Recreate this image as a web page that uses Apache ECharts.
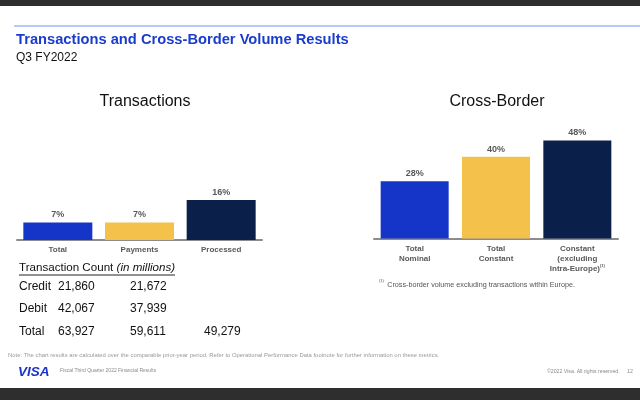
<!DOCTYPE html>
<html>
<head>
<meta charset="utf-8">
<script src="https://cdn.jsdelivr.net/npm/echarts@6/dist/echarts.min.js"></script>
<style>html,body{margin:0;padding:0;background:#fff}#c{width:640px;height:400px}</style>
</head>
<body>
<div id="c"></div>
<script>
const txCategories = ['Total', 'Payments', 'Processed'];
const txValues = [7, 7, 16];
const cbCategories = ['Total\nNominal', 'Total\nConstant', 'Constant\n(excluding\nIntra-Europe)'];
const cbValues = [28, 40, 48];
const barColors = ['#1535c9', '#f4c24a', '#0b1f4b'];
const countRows = ['Credit', 'Debit', 'Total'];
const countCol1 = ['21,860', '42,067', '63,927'];
const countCol2 = ['21,672', '37,939', '59,611'];
const countCol3 = ['', '', '49,279'];

const FONT = '"Liberation Sans", Arial, sans-serif';
const chart = echarts.init(document.getElementById('c'));

function txt(x, y, text, size, color, opts) {
  opts = opts || {};
  return {
    type: 'text', x: x, y: y, silent: true,
    style: Object.assign({
      text: text, fill: color,
      font: (opts.style || '') + ' ' + (opts.weight || 'normal') + ' ' + size + 'px ' + FONT,
      align: opts.align || 'left', verticalAlign: 'middle'
    }, opts.extra || {})
  };
}

const graphics = [
  { type: 'rect', shape: { x: 0, y: 0, width: 640, height: 6 }, style: { fill: '#2e2e2e' }, silent: true },
  { type: 'rect', shape: { x: 0, y: 388, width: 640, height: 12 }, style: { fill: '#2e2e2e' }, silent: true },
  { type: 'line', shape: { x1: 14, y1: 26, x2: 640, y2: 26 }, style: { stroke: '#7390ee', lineWidth: 1 }, silent: true },
  txt(16, 40, 'Transactions and Cross-Border Volume Results', 14.7, '#1a3ccc', { weight: 'bold' }),
  txt(16, 58, 'Q3 FY2022', 12, '#111'),
  txt(145, 102, 'Transactions', 16, '#111', { align: 'center' }),
  txt(497, 102, 'Cross-Border', 16, '#111', { align: 'center' }),
  {
    type: 'text', x: 19, y: 268, silent: true,
    style: {
      text: '{a|Transaction Count }{b|(in millions)}', verticalAlign: 'middle',
      rich: {
        a: { font: '11.6px ' + FONT, fill: '#111' },
        b: { font: 'italic 11.6px ' + FONT, fill: '#111' }
      }
    }
  },
  { type: 'line', shape: { x1: 19, y1: 275, x2: 175, y2: 275 }, style: { stroke: '#222', lineWidth: 1 }, silent: true },
  {
    type: 'text', x: 379, y: 285, silent: true,
    style: {
      text: '{s|(1)} {t|Cross-border volume excluding transactions within Europe.}', verticalAlign: 'middle',
      rich: {
        s: { font: '4px ' + FONT, fill: '#555', verticalAlign: 'top' },
        t: { font: '7.2px ' + FONT, fill: '#555' }
      }
    }
  },
  txt(8, 355, 'Note: The chart results are calculated over the comparable prior-year period. Refer to Operational Performance Data footnote for further information on these metrics.', 5.9, '#999'),
  txt(18, 372, 'VISA', 13.5, '#1a33c8', { weight: 'bold', style: 'italic' }),
  txt(60, 371, 'Fiscal Third Quarter 2022 Financial Results', 5, '#8a8a8a'),
  txt(547, 372, '\u00a92022 Visa. All rights reserved.', 5.2, '#8a8a8a'),
  txt(627, 372, '12', 5.2, '#8a8a8a')
];

const rowY = [287, 309, 332];
countRows.forEach(function (r, i) {
  graphics.push(txt(19, rowY[i], r, 12, '#111'));
  graphics.push(txt(58, rowY[i], countCol1[i], 12, '#111'));
  graphics.push(txt(130, rowY[i], countCol2[i], 12, '#111'));
  if (countCol3[i]) graphics.push(txt(204, rowY[i], countCol3[i], 12, '#111'));
});

const axisCommon = {
  type: 'category',
  axisTick: { show: false },
  axisLine: { lineStyle: { color: '#8c8c8c', width: 2 } },
  axisLabel: {
    interval: 0, margin: 5, color: '#595959', fontFamily: FONT, fontWeight: 'bold',
    fontSize: 8, lineHeight: 10,
    rich: { s: { fontSize: 4, verticalAlign: 'top', color: '#595959', fontWeight: 'bold' } }
  }
};

const labelCommon = {
  show: true, position: 'top', distance: 3, formatter: '{c}%',
  color: '#595959', fontFamily: FONT, fontWeight: 'bold', fontSize: 9
};

chart.setOption({
  animation: false,
  grid: [
    { left: 17, top: 140, width: 245, height: 100 },
    { left: 374, top: 116, width: 244, height: 122.4 }
  ],
  xAxis: [
    Object.assign({}, axisCommon, { gridIndex: 0, data: txCategories }),
    Object.assign({}, axisCommon, {
      gridIndex: 1, data: cbCategories,
      axisLabel: Object.assign({}, axisCommon.axisLabel, {
        formatter: function (v) { return v.indexOf('Intra-Europe') >= 0 ? v + '{s|(1)}' : v; }
      })
    })
  ],
  yAxis: [
    { gridIndex: 0, type: 'value', min: 0, max: 40, show: false, splitLine: { show: false } },
    { gridIndex: 1, type: 'value', min: 0, max: 60, show: false, splitLine: { show: false } }
  ],
  series: [
    {
      type: 'bar', xAxisIndex: 0, yAxisIndex: 0, barWidth: 69,
      data: txValues.map(function (v, i) { return { value: v, itemStyle: { color: barColors[i] } }; }),
      label: labelCommon
    },
    {
      type: 'bar', xAxisIndex: 1, yAxisIndex: 1, barWidth: 68,
      data: cbValues.map(function (v, i) { return { value: v, itemStyle: { color: barColors[i] } }; }),
      label: labelCommon
    }
  ],
  graphic: graphics
});
</script>
</body>
</html>
